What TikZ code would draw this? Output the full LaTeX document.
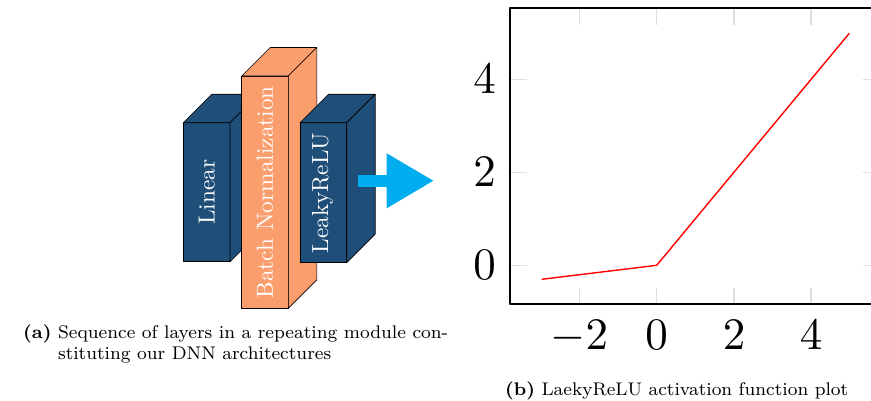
\documentclass[tikz,border=0pt]{standalone}
\usepackage{graphicx}
\definecolor{blk}{RGB}{31,78,121}
\definecolor{bncol}{RGB}{250,158,110}
\definecolor{arrcol}{RGB}{0,174,239}
\definecolor{tickgray}{RGB}{222,222,222}
\newcommand\mycuboid[5]{%
  \filldraw[face, fill=#5] (#1,#2) rectangle (#3,#4);
  \filldraw[face, fill=#5] (#1,#2) -- (#1+28.5,#2-28.5) -- (#3+28.5,#2-28.5) -- (#3,#2) -- cycle;
  \filldraw[face, fill=#5] (#3,#2) -- (#3+28.5,#2-28.5) -- (#3+28.5,#4-28.5) -- (#3,#4) -- cycle;
}
\begin{document}
\begin{tikzpicture}[x=1pt,y=-1pt,line join=round,
  face/.style={draw=black, line width=0.6pt},
  lbl/.style={text=white, inner sep=0pt, rotate=90},
  ticklab/.style={inner sep=0pt},
  gridtick/.style={draw=tickgray, line width=1.1pt},
  axisline/.style={draw=black, line width=1.4pt},
  plotline/.style={draw=red, line width=1.4pt},
  capstyle/.style={inner sep=0pt}]
\useasboundingbox (0,0) rectangle (871,400);
% blocks
\mycuboid{183.3}{122.7}{230}{261.7}{blk}
\node[lbl] (lin) at (206.7,192.2) {\scalebox{2.33}{Linear}};
\mycuboid{241.7}{76}{288.3}{308.3}{bncol}
\node[lbl] (bn) at (265,192.2) {\scalebox{2.33}{Batch Normalization}};
\mycuboid{300}{122.7}{346.7}{262.7}{blk}
\node[lbl] (lrelu) at (322.5,193) {\scalebox{2.33}{LeakyReLU}};
% arrow
\fill[arrcol] (358.3,175) rectangle (387.5,186.7);
\fill[arrcol] (386.7,153.3) -- (433.3,180.7) -- (386.7,208.3) -- cycle;
% plot ticks
\foreach \x in {579.3,656.7,734,811}{
  \draw[gridtick] (\x,8) -- (\x,25);
  \draw[gridtick] (\x,288) -- (\x,304);
}
\foreach \y in {79.3,172.3,265.3}{
  \draw[gridtick] (510,\y) -- (527,\y);
  \draw[gridtick] (880,\y) -- (863,\y);
}
\draw[axisline] (880,8) -- (510,8) -- (510,304) -- (880,304);
\draw[plotline] (541.7,279.3) -- (656.7,265.3) -- (849.3,33.3);
% tick labels
\node[ticklab, anchor=base east] (y4) at (496,93.8) {\scalebox{4.5}{$4$}};
\node[ticklab, anchor=base east] (y2) at (496,186.8) {\scalebox{4.5}{$2$}};
\node[ticklab, anchor=base east] (y0) at (496,279.8) {\scalebox{4.5}{$0$}};
\node[ticklab, anchor=base] (xm2) at (579.3,349) {\scalebox{4.5}{$-2$}};
\node[ticklab, anchor=base] (x0) at (656.7,349) {\scalebox{4.5}{$0$}};
\node[ticklab, anchor=base] (x2) at (734,349) {\scalebox{4.5}{$2$}};
\node[ticklab, anchor=base] (x4) at (811,349) {\scalebox{4.5}{$4$}};
% captions
\node[capstyle, anchor=base west] (capa) at (23,338) {\resizebox{425pt}{!}{\fontsize{8}{9.5}\selectfont\begin{tabular}[t]{@{}l@{\ }l@{}}\textbf{(a)} & Sequence of layers in a repeating module con-\\ & stituting our DNN architectures\end{tabular}}};
\node[capstyle, anchor=base west] (capb) at (505,395) {\resizebox{343pt}{!}{\fontsize{8}{9.5}\selectfont\textbf{(b)} LaekyReLU activation function plot}};
\end{tikzpicture}
\end{document}
